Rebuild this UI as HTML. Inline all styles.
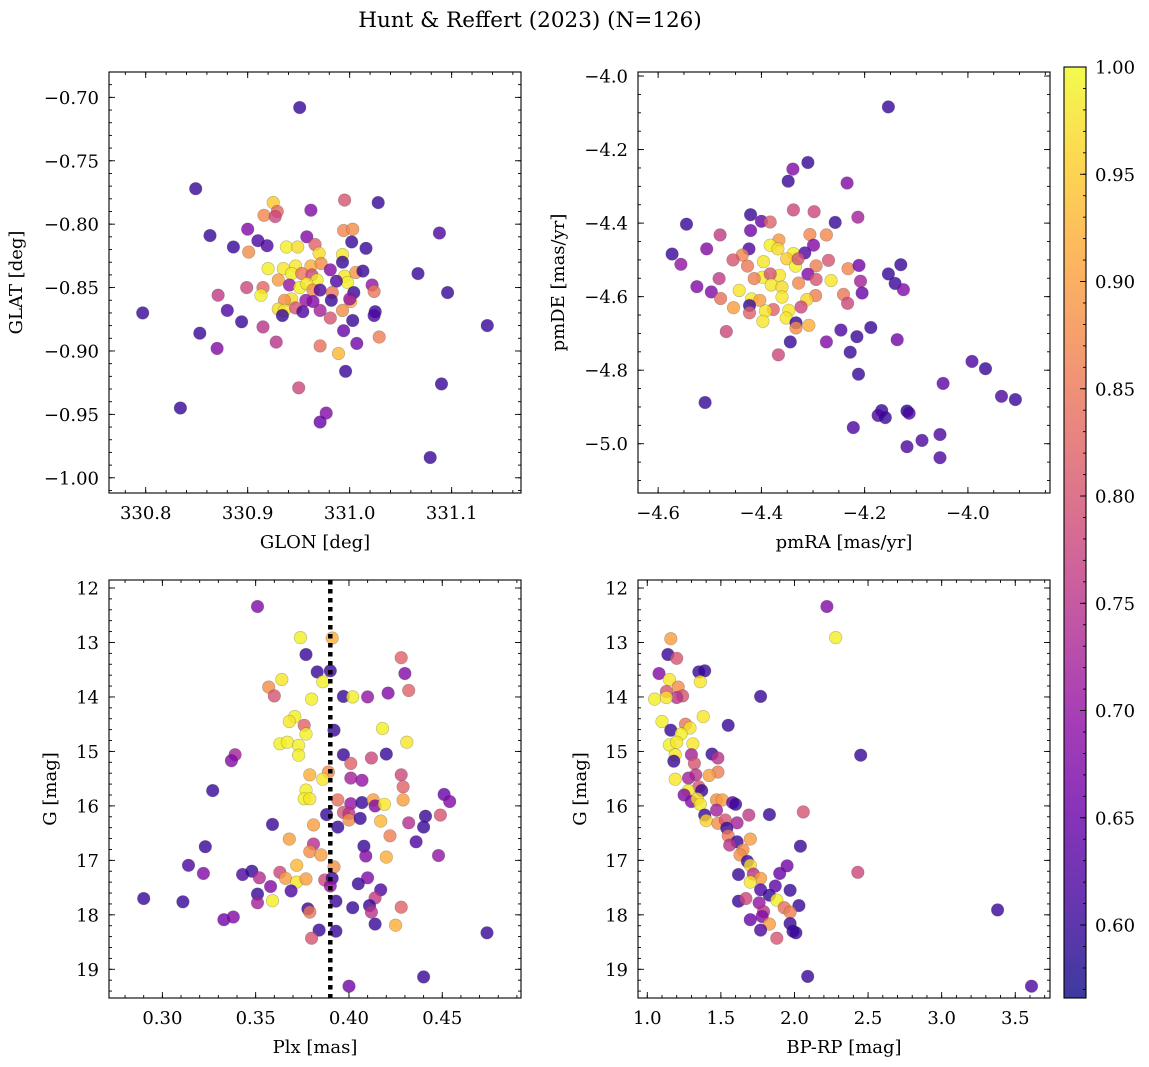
<!DOCTYPE html>
<html><head><meta charset="utf-8">
<style>
html,body{margin:0;padding:0;background:#fff;}
svg{display:block;font-family:"DejaVu Serif","Liberation Serif",serif;}
</style></head>
<body>
<svg id="chart" width="1149" height="1067" viewBox="0 0 1149 1067" xmlns="http://www.w3.org/2000/svg">
<defs>
<linearGradient id="cbgrad" x1="0" y1="1" x2="0" y2="0"></linearGradient>
</defs>
<text x="530" y="27" text-anchor="middle" font-size="21.5">Hunt &amp; Reffert (2023) (N=126)</text>
<g id="layer"></g>
</svg>
<script>
// ---------- Panel 1: GLON / GLAT ----------
const p1Lon=[330.951,330.849,331.028,330.995,330.962,330.925,330.929,330.916,330.927,330.900,330.863,330.910,330.919,330.886,330.901,331.088,330.994,331.003,330.958,331.002,331.016,330.938,330.949,330.966,330.970,330.993,330.993,330.920,330.935,330.947,330.962,330.972,330.981,330.943,330.930,330.953,330.963,330.968,330.995,330.998,331.006,331.013,330.987,331.067,330.899,330.915,330.913,330.941,330.951,330.958,330.964,330.971,330.983,331.004,331.022,331.024,331.096,330.871,330.943,330.936,330.957,330.964,330.982,331.001,331.000,330.930,330.936,330.934,330.947,330.954,330.971,330.993,331.025,331.024,330.797,330.880,330.894,330.981,331.003,330.915,330.994,331.135,330.853,330.928,330.870,330.971,331.007,331.029,330.989,330.996,330.950,331.090,330.834,330.977,330.971,331.079];
const p1Lat=[-0.708,-0.772,-0.783,-0.781,-0.789,-0.783,-0.790,-0.793,-0.794,-0.804,-0.809,-0.813,-0.817,-0.818,-0.822,-0.807,-0.805,-0.804,-0.810,-0.814,-0.819,-0.818,-0.818,-0.816,-0.823,-0.824,-0.830,-0.835,-0.835,-0.833,-0.833,-0.831,-0.836,-0.839,-0.844,-0.839,-0.840,-0.844,-0.841,-0.846,-0.838,-0.837,-0.845,-0.839,-0.850,-0.850,-0.856,-0.848,-0.850,-0.847,-0.852,-0.852,-0.854,-0.854,-0.848,-0.853,-0.854,-0.856,-0.859,-0.860,-0.860,-0.861,-0.860,-0.861,-0.859,-0.867,-0.868,-0.872,-0.866,-0.869,-0.868,-0.868,-0.869,-0.872,-0.870,-0.868,-0.877,-0.874,-0.876,-0.881,-0.884,-0.880,-0.886,-0.893,-0.898,-0.896,-0.894,-0.889,-0.902,-0.916,-0.929,-0.926,-0.945,-0.949,-0.956,-0.984];
const p1Prob=[0.60,0.60,0.60,0.80,0.68,0.95,0.83,0.87,0.78,0.68,0.60,0.62,0.62,0.60,0.88,0.62,0.87,0.88,0.68,0.60,0.60,0.99,0.97,0.82,0.97,0.98,0.60,0.99,0.98,0.98,0.92,0.88,0.68,0.99,0.90,0.85,0.78,0.99,0.98,0.99,0.89,0.60,0.62,0.60,0.78,0.83,0.99,0.70,0.99,0.98,0.88,0.62,0.85,0.60,0.70,0.85,0.60,0.76,0.97,0.88,0.70,0.68,0.60,0.92,0.70,0.97,0.98,0.60,0.80,0.62,0.72,0.88,0.60,0.62,0.60,0.62,0.60,0.80,0.60,0.75,0.65,0.60,0.60,0.75,0.68,0.84,0.66,0.86,0.93,0.60,0.78,0.60,0.60,0.68,0.65,0.60];

// ---------- Panel 2: pmRA / pmDE ----------
const p2Pmra=[-4.154,-4.310,-4.339,-4.348,-4.234,-4.338,-4.298,-4.213,-4.421,-4.400,-4.383,-4.257,-4.545,-4.480,-4.421,-4.306,-4.274,-4.366,-4.383,-4.368,-4.299,-4.506,-4.424,-4.338,-4.316,-4.573,-4.437,-4.455,-4.396,-4.351,-4.334,-4.329,-4.270,-4.556,-4.427,-4.294,-4.232,-4.211,-4.130,-4.154,-4.365,-4.398,-4.414,-4.383,-4.310,-4.294,-4.265,-4.482,-4.525,-4.381,-4.360,-4.328,-4.208,-4.141,-4.125,-4.497,-4.443,-4.241,-4.205,-4.295,-4.360,-4.479,-4.419,-4.403,-4.312,-4.323,-4.233,-4.423,-4.454,-4.377,-4.347,-4.392,-4.423,-4.352,-4.397,-4.333,-4.333,-4.308,-4.468,-4.246,-4.188,-4.215,-4.137,-4.344,-4.274,-4.228,-4.367,-3.992,-3.966,-4.212,-4.048,-3.935,-3.908,-4.509,-4.167,-4.174,-4.160,-4.118,-4.114,-4.222,-4.054,-4.089,-4.118,-4.054];
const p2Pmde=[-4.084,-4.235,-4.253,-4.286,-4.291,-4.364,-4.369,-4.384,-4.377,-4.395,-4.397,-4.398,-4.403,-4.432,-4.420,-4.431,-4.432,-4.446,-4.460,-4.470,-4.460,-4.470,-4.470,-4.483,-4.481,-4.484,-4.487,-4.500,-4.505,-4.497,-4.517,-4.497,-4.501,-4.512,-4.517,-4.516,-4.524,-4.515,-4.513,-4.538,-4.542,-4.547,-4.551,-4.538,-4.539,-4.553,-4.556,-4.551,-4.573,-4.568,-4.574,-4.563,-4.558,-4.564,-4.581,-4.587,-4.583,-4.594,-4.590,-4.597,-4.601,-4.605,-4.606,-4.610,-4.608,-4.628,-4.618,-4.624,-4.630,-4.635,-4.637,-4.639,-4.644,-4.658,-4.667,-4.671,-4.685,-4.678,-4.695,-4.691,-4.684,-4.709,-4.717,-4.723,-4.723,-4.751,-4.758,-4.776,-4.796,-4.811,-4.836,-4.871,-4.880,-4.888,-4.910,-4.923,-4.929,-4.911,-4.917,-4.956,-4.975,-4.991,-5.008,-5.038];
const p2Prob=[0.60,0.60,0.68,0.60,0.68,0.78,0.78,0.72,0.60,0.65,0.82,0.60,0.60,0.76,0.66,0.87,0.87,0.89,0.99,0.97,0.68,0.68,0.62,0.99,0.62,0.60,0.87,0.80,0.98,0.95,0.99,0.80,0.80,0.70,0.85,0.86,0.87,0.66,0.60,0.60,0.98,0.99,0.86,0.80,0.68,0.80,0.98,0.76,0.68,0.98,0.97,0.87,0.72,0.60,0.68,0.68,0.98,0.85,0.65,0.86,0.98,0.84,0.98,0.90,0.96,0.78,0.78,0.60,0.90,0.82,0.98,0.98,0.82,0.98,0.98,0.60,0.88,0.92,0.78,0.62,0.60,0.60,0.66,0.60,0.68,0.60,0.78,0.62,0.60,0.60,0.64,0.62,0.60,0.60,0.60,0.62,0.60,0.58,0.62,0.62,0.62,0.62,0.62,0.62];

// ---------- Panel 3: Plx / G ----------
const p3Plx=[0.351,0.374,0.391,0.377,0.383,0.390,0.364,0.386,0.357,0.360,0.380,0.397,0.402,0.410,0.421,0.432,0.428,0.430,0.371,0.368,0.376,0.377,0.392,0.418,0.431,0.363,0.367,0.373,0.373,0.339,0.337,0.397,0.412,0.420,0.401,0.379,0.389,0.386,0.401,0.407,0.428,0.429,0.327,0.377,0.376,0.379,0.394,0.401,0.407,0.413,0.414,0.419,0.429,0.451,0.454,0.388,0.397,0.400,0.400,0.406,0.417,0.432,0.441,0.449,0.359,0.381,0.394,0.440,0.368,0.422,0.436,0.381,0.408,0.323,0.379,0.385,0.409,0.420,0.448,0.314,0.372,0.392,0.322,0.343,0.348,0.352,0.363,0.366,0.372,0.377,0.387,0.391,0.390,0.410,0.405,0.417,0.358,0.369,0.351,0.351,0.359,0.393,0.414,0.290,0.311,0.402,0.411,0.412,0.428,0.378,0.379,0.333,0.338,0.414,0.425,0.384,0.393,0.380,0.474,0.440,0.400];
const p3G=[12.34,12.91,12.92,13.22,13.54,13.52,13.68,13.72,13.82,13.98,14.04,13.99,14.00,14.00,13.93,13.88,13.28,13.57,14.36,14.45,14.52,14.68,14.61,14.58,14.83,14.86,14.83,14.89,15.07,15.06,15.17,15.06,15.12,15.05,15.22,15.43,15.38,15.51,15.49,15.53,15.43,15.65,15.72,15.71,15.87,15.87,15.89,15.96,15.94,15.89,16.00,15.97,15.89,15.79,15.92,16.16,16.12,16.14,16.26,16.23,16.28,16.31,16.19,16.17,16.34,16.35,16.39,16.39,16.61,16.55,16.66,16.70,16.74,16.75,16.84,16.90,16.92,16.94,16.91,17.09,17.09,17.12,17.24,17.26,17.20,17.32,17.22,17.33,17.40,17.34,17.36,17.33,17.47,17.32,17.43,17.54,17.48,17.56,17.62,17.78,17.74,17.75,17.69,17.70,17.76,17.87,17.83,17.95,17.86,17.89,17.95,18.09,18.04,18.17,18.19,18.28,18.30,18.43,18.33,19.14,19.31];
const p3Prob=[0.68,0.99,0.92,0.60,0.60,0.60,0.98,0.99,0.88,0.80,0.99,0.60,0.99,0.70,0.68,0.82,0.82,0.68,0.99,0.98,0.82,0.99,0.60,0.99,0.98,0.99,0.99,0.99,0.99,0.72,0.68,0.60,0.78,0.60,0.82,0.92,0.88,0.98,0.72,0.70,0.78,0.82,0.60,0.99,0.99,0.98,0.84,0.70,0.60,0.90,0.68,0.98,0.90,0.65,0.68,0.60,0.80,0.75,0.88,0.60,0.93,0.74,0.60,0.80,0.60,0.90,0.60,0.60,0.90,0.86,0.62,0.74,0.60,0.60,0.88,0.90,0.68,0.92,0.70,0.62,0.93,0.88,0.68,0.62,0.60,0.74,0.78,0.90,0.98,0.90,0.78,0.60,0.70,0.68,0.60,0.62,0.68,0.62,0.60,0.72,0.99,0.60,0.76,0.60,0.60,0.60,0.60,0.75,0.82,0.60,0.85,0.66,0.68,0.60,0.92,0.60,0.60,0.80,0.60,0.60,0.66];
const p3PlxRef=0.390;

// ---------- Panel 4: BP-RP / G ----------
const p4Col=[2.22,2.28,1.16,1.14,1.20,1.08,1.35,1.39,1.15,1.36,1.21,1.13,1.24,1.20,1.05,1.13,1.77,1.38,1.10,1.26,1.29,1.55,1.16,1.23,1.15,1.20,1.31,1.19,1.18,1.30,1.44,1.48,1.32,2.45,1.48,1.42,1.33,1.28,1.19,1.35,1.37,1.28,1.25,1.30,1.34,1.36,1.47,1.51,1.58,1.60,1.47,1.39,1.69,1.83,2.06,1.40,1.48,1.53,1.61,1.54,1.55,1.61,1.56,1.70,1.65,1.63,2.04,1.68,1.70,1.95,1.90,2.43,1.62,1.72,1.77,1.70,1.87,1.97,1.77,1.83,1.88,1.62,1.67,1.76,1.93,2.03,1.97,1.79,1.70,1.78,1.83,1.97,1.77,1.99,2.01,1.88,3.38,2.09,3.61];
const p4G=[12.34,12.91,12.93,13.22,13.29,13.57,13.54,13.52,13.68,13.72,13.82,13.90,13.98,14.01,14.04,14.01,13.99,14.36,14.45,14.50,14.57,14.52,14.61,14.68,14.88,14.83,14.86,15.06,15.18,15.06,15.05,15.12,15.22,15.07,15.38,15.44,15.43,15.49,15.51,15.65,15.72,15.72,15.80,15.92,15.87,15.97,15.89,15.89,15.94,15.97,16.08,16.17,16.17,16.16,16.11,16.27,16.32,16.26,16.31,16.41,16.55,16.66,16.72,16.61,16.81,16.90,16.74,17.02,17.09,17.10,17.24,17.22,17.26,17.25,17.33,17.40,17.47,17.55,17.54,17.64,17.73,17.75,17.70,17.78,17.87,17.83,17.95,17.94,18.09,18.03,18.17,18.16,18.28,18.30,18.33,18.43,17.91,19.13,19.31];
const p4Prob=[0.68,0.99,0.90,0.60,0.80,0.68,0.60,0.60,0.98,0.98,0.88,0.80,0.80,0.75,0.99,0.98,0.60,0.98,0.99,0.85,0.98,0.60,0.60,0.99,0.99,0.98,0.98,0.98,0.60,0.72,0.60,0.75,0.80,0.60,0.86,0.90,0.75,0.72,0.98,0.80,0.60,0.98,0.68,0.68,0.97,0.98,0.88,0.90,0.65,0.60,0.72,0.60,0.76,0.60,0.80,0.96,0.88,0.80,0.72,0.60,0.85,0.60,0.75,0.90,0.88,0.88,0.60,0.60,0.97,0.66,0.65,0.78,0.60,0.75,0.90,0.98,0.64,0.60,0.62,0.60,0.99,0.60,0.78,0.70,0.84,0.60,0.86,0.75,0.65,0.68,0.90,0.60,0.62,0.60,0.60,0.80,0.60,0.60,0.62];

// ---------- Colorbar ----------
const cbTicks=[0.60,0.65,0.70,0.75,0.80,0.85,0.90,0.95,1.00];
const cbMin=0.566, cbMax=1.0;

const FS=18;
const NS='http://www.w3.org/2000/svg';
const layer=document.getElementById('layer');
function mk(tag,attrs,parent){const e=document.createElementNS(NS,tag);for(const k in attrs)e.setAttribute(k,attrs[k]);(parent||layer).appendChild(e);return e;}

const plasma=[[13,8,135],[65,4,157],[106,0,168],[143,13,164],[177,42,144],[204,71,120],[225,100,98],[242,132,75],[252,166,54],[252,206,37],[240,249,33]];
function cmap(p){let t=(p-cbMin)/(cbMax-cbMin);t=Math.max(0,Math.min(1,t));const f=t*10,i=Math.min(9,Math.floor(f)),r=f-i;const a=plasma[i],b=plasma[i+1];return 'rgb('+[0,1,2].map(k=>Math.round(a[k]+(b[k]-a[k])*r)).join(',')+')';}

function fmt(v,d){const s=Math.abs(v).toFixed(d);return (v<0?'\u2212':'')+s;}

function panel(cfg){
  const g=mk('g',{});
  
  
  const L=cfg.px0,R=cfg.px1,T=cfg.py0,B=cfg.py1;
  const sx=v=>L+(v-cfg.x0)/(cfg.x1-cfg.x0)*(R-L);
  const sy=cfg.invert? (v=>T+(v-cfg.y0)/(cfg.y1-cfg.y0)*(B-T)) : (v=>B-(v-cfg.y0)/(cfg.y1-cfg.y0)*(B-T));
  const clip='clip-'+cfg.name;
  const cp=mk('clipPath',{id:clip},g);mk('rect',{x:L,y:T,width:R-L,height:B-T},cp);
  const pts=mk('g',{'clip-path':'url(#'+clip+')'},g);
  
  
  for(let i=0;i<cfg.xs.length;i++){
    const c=mk('circle',{cx:sx(cfg.xs[i]).toFixed(1),cy:sy(cfg.ys[i]).toFixed(1),r:6.3,fill:cmap(cfg.ps[i]),'fill-opacity':0.8,stroke:'rgba(60,60,60,0.35)','stroke-width':0.6},pts);
    
    
  }
  if(cfg.vline!==undefined){
    const ln=mk('line',{x1:sx(cfg.vline),x2:sx(cfg.vline),y1:T,y2:B,stroke:'#000','stroke-width':4.5,'stroke-dasharray':'4.5,4.5'},g);
    
    
  }
  const fr=mk('rect',{x:L,y:T,width:R-L,height:B-T,fill:'none',stroke:'#000','stroke-width':1.1},g);
  
  
  const tg=mk('g',{stroke:'#000','stroke-width':0.9},g);
  const eps=1e-9;
  function ticksBetween(a,b,step){const out=[];let s=Math.ceil(Math.min(a,b)/step-1e-6)*step;for(;s<=Math.max(a,b)+eps;s+=step)out.push(+s.toFixed(6));return out;}
  ticksBetween(cfg.x0,cfg.x1,cfg.xminor).forEach(v=>{const x=sx(v);mk('line',{x1:x,x2:x,y1:B,y2:B-3},tg);mk('line',{x1:x,x2:x,y1:T,y2:T+3},tg);});
  ticksBetween(cfg.y0,cfg.y1,cfg.yminor).forEach(v=>{const y=sy(v);mk('line',{x1:L,x2:L+3,y1:y,y2:y},tg);mk('line',{x1:R,x2:R-3,y1:y,y2:y},tg);});
  cfg.xticks.forEach(v=>{const x=sx(v);mk('line',{x1:x,x2:x,y1:B,y2:B-6},tg);mk('line',{x1:x,x2:x,y1:T,y2:T+6},tg);
    const t=mk('text',{x:x,y:B+26,'text-anchor':'middle','font-size':FS},g);t.textContent=fmt(v,cfg.xdec);
    
    });
  cfg.yticks.forEach(v=>{const y=sy(v);mk('line',{x1:L,x2:L+6,y1:y,y2:y},tg);mk('line',{x1:R,x2:R-6,y1:y,y2:y},tg);
    const t=mk('text',{x:L-10,y:y+6.5,'text-anchor':'end','font-size':FS},g);t.textContent=fmt(v,cfg.ydec);
    
    });
  const xl=mk('text',{x:(L+R)/2,y:B+55,'text-anchor':'middle','font-size':FS},g);xl.textContent=cfg.xlabel;
  
  
  const yl=mk('text',{x:cfg.ylx,y:(T+B)/2,'text-anchor':'middle','font-size':FS,transform:'rotate(-90 '+cfg.ylx+' '+(T+B)/2+')'},g);yl.textContent=cfg.ylabel;
  
  
}

panel({name:'glon-glat-panel',px0:109,px1:521,py0:72,py1:493,x0:330.764,x1:331.168,y0:-1.012,y1:-0.680,
  xs:p1Lon,ys:p1Lat,ps:p1Prob,xticks:[330.8,330.9,331.0,331.1],xdec:1,yticks:[-1.0,-0.95,-0.9,-0.85,-0.8,-0.75,-0.7],ydec:2,
  xminor:0.02,yminor:0.01,xlabel:'GLON [deg]',ylabel:'GLAT [deg]',ylx:22});
panel({name:'pmra-pmde-panel',px0:638,px1:1050,py0:72,py1:493,x0:-4.639,x1:-3.841,y0:-5.134,y1:-3.989,
  xs:p2Pmra,ys:p2Pmde,ps:p2Prob,xticks:[-4.6,-4.4,-4.2,-4.0],xdec:1,yticks:[-5.0,-4.8,-4.6,-4.4,-4.2,-4.0],ydec:1,
  xminor:0.05,yminor:0.05,xlabel:'pmRA [mas/yr]',ylabel:'pmDE [mas/yr]',ylx:564});
panel({name:'plx-g-panel',px0:109,px1:521,py0:580,py1:998,x0:0.2714,x1:0.4922,y0:11.853,y1:19.527,invert:true,
  xs:p3Plx,ys:p3G,ps:p3Prob,xticks:[0.30,0.35,0.40,0.45],xdec:2,yticks:[12,13,14,15,16,17,18,19],ydec:0,
  xminor:0.01,yminor:0.2,xlabel:'Plx [mas]',ylabel:'G [mag]',ylx:56,vline:p3PlxRef});
panel({name:'color-magnitude-panel',px0:638,px1:1050,py0:580,py1:998,x0:0.937,x1:3.736,y0:11.853,y1:19.527,invert:true,
  xs:p4Col,ys:p4G,ps:p4Prob,xticks:[1.0,1.5,2.0,2.5,3.0,3.5],xdec:1,yticks:[12,13,14,15,16,17,18,19],ydec:0,
  xminor:0.1,yminor:0.2,xlabel:'BP-RP [mag]',ylabel:'G [mag]',ylx:586});

(function(){
  const grad=document.getElementById('cbgrad');
  for(let i=0;i<=20;i++){const s=document.createElementNS(NS,'stop');s.setAttribute('offset',(i/20));s.setAttribute('stop-color',cmap(cbMin+(cbMax-cbMin)*i/20));s.setAttribute('stop-opacity',0.8);grad.appendChild(s);}
  const X=1064,W=22,T=67,B=998;
  const cy=v=>B-(v-cbMin)/(cbMax-cbMin)*(B-T);
  const g=mk('g',{});
  
  
  mk('rect',{x:X,y:T,width:W,height:B-T,fill:'url(#cbgrad)',stroke:'#000','stroke-width':1.1},g);
  for(let v=0.57;v<=1.0001;v+=0.01){const y=cy(v);mk('line',{x1:X+W,x2:X+W-3,y1:y,y2:y,stroke:'#000','stroke-width':0.9},g);}
  cbTicks.forEach(v=>{const y=cy(v);mk('line',{x1:X+W,x2:X+W-6,y1:y,y2:y,stroke:'#000','stroke-width':0.9},g);
    const t=mk('text',{x:X+W+9,y:y+6.5,'font-size':FS},g);t.textContent=v.toFixed(2);
    
    });
})();
</script>
</body></html>
